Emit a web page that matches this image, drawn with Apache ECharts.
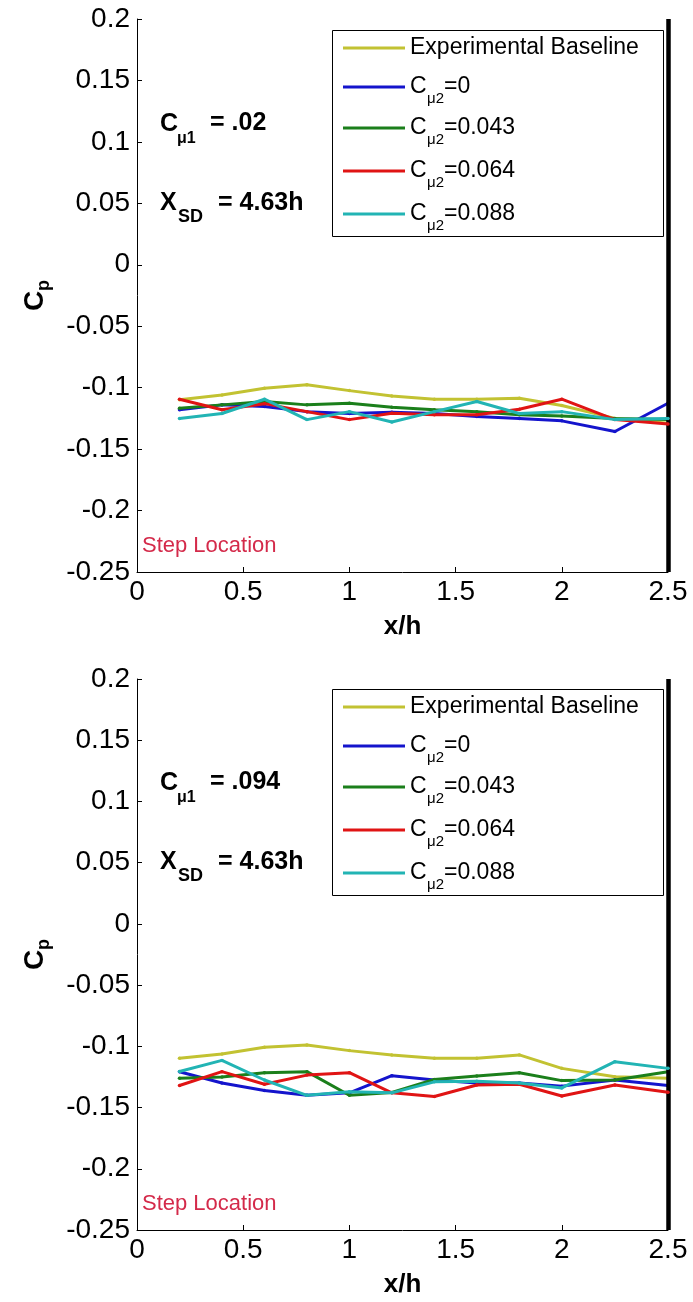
<!DOCTYPE html>
<html>
<head>
<meta charset="utf-8">
<script src="https://cdn.jsdelivr.net/npm/echarts@6/dist/echarts.min.js"></script>
<style>
html,body{margin:0;padding:0;background:#fff;}
#chart{width:693px;height:1302px;}
</style>
</head>
<body>
<div id="chart"></div>
<script>
// ---- data ----
const xPositions = [0.2, 0.4, 0.6, 0.8, 1.0, 1.2, 1.4, 1.6, 1.8, 2.0, 2.25, 2.5];
const seriesNames = ['Experimental Baseline', 'Cμ2=0', 'Cμ2=0.043', 'Cμ2=0.064', 'Cμ2=0.088'];

// top panel (Cμ1 = .02)
const topBaseline = [-0.1099, -0.1059, -0.1004, -0.0977, -0.1024, -0.1067, -0.1094, -0.1094, -0.1086, -0.1145, -0.125, -0.129];
const topC0       = [-0.118, -0.114, -0.1154, -0.1195, -0.121, -0.120, -0.121, -0.1235, -0.125, -0.127, -0.1357, -0.1127];
const topC043     = [-0.1167, -0.114, -0.1113, -0.114, -0.1127, -0.116, -0.118, -0.1195, -0.122, -0.123, -0.125, -0.126];
const topC064     = [-0.1094, -0.118, -0.113, -0.1195, -0.126, -0.1208, -0.122, -0.122, -0.1175, -0.1094, -0.126, -0.1295];
const topC088     = [-0.125, -0.121, -0.1094, -0.126, -0.1195, -0.128, -0.1195, -0.1113, -0.121, -0.1195, -0.126, -0.125];

// bottom panel (Cμ1 = .094)
const botBaseline = [-0.1098, -0.1062, -0.1008, -0.0989, -0.1035, -0.107, -0.1098, -0.1098, -0.107, -0.118, -0.1248, -0.126];
const botC0       = [-0.1207, -0.130, -0.136, -0.140, -0.138, -0.124, -0.1275, -0.130, -0.130, -0.1325, -0.1275, -0.132];
const botC043     = [-0.126, -0.125, -0.1215, -0.1207, -0.140, -0.1377, -0.127, -0.1243, -0.1216, -0.128, -0.1275, -0.1207];
const botC064     = [-0.132, -0.1207, -0.131, -0.1235, -0.1215, -0.138, -0.141, -0.1316, -0.131, -0.1406, -0.1316, -0.1375];
const botC088     = [-0.1206, -0.1115, -0.1275, -0.140, -0.137, -0.138, -0.129, -0.1285, -0.130, -0.134, -0.1125, -0.118];

const stepX = 2.5;
const xTicks = {min: 0, max: 2.5, interval: 0.5};
const yTicks = {min: -0.25, max: 0.2, interval: 0.05};

// ---- styling ----
const colors = ['#C2C232', '#1414CC', '#1B7F1B', '#E01414', '#22B4B4'];
const FONT = 'Liberation Sans, Arial, sans-serif';

function pair(xs, ys) { return xs.map((x, i) => [x, ys[i]]); }

const panels = [
  [topBaseline, topC0, topC043, topC064, topC088],
  [botBaseline, botC0, botC043, botC064, botC088]
];

const series = [];
panels.forEach((vals, g) => {
  vals.forEach((v, i) => {
    series.push({
      name: seriesNames[i], type: 'line', xAxisIndex: g, yAxisIndex: g,
      data: pair(xPositions, v), symbol: 'circle', symbolSize: 3.5, showSymbol: true,
      lineStyle: {color: colors[i], width: 3}, itemStyle: {color: colors[i]},
      animation: false, z: 2 + i
    });
  });
  series.push({
    type: 'line', xAxisIndex: g, yAxisIndex: g, data: [], clip: false, animation: false,
    markLine: {silent: true, symbol: 'none', label: {show: false},
      lineStyle: {color: '#000', width: 4.5, type: 'solid'}, data: [{xAxis: stepX}], animation: false},
    z: 10
  });
});

function xAxisCfg(g) {
  return {
    type: 'value', gridIndex: g, min: xTicks.min, max: xTicks.max, interval: xTicks.interval,
    axisLine: {onZero: false, lineStyle: {color: '#000', width: 1}},
    axisTick: {inside: true, length: 5, lineStyle: {color: '#000'}},
    axisLabel: {fontSize: 28, color: '#000', fontFamily: FONT, margin: 6},
    splitLine: {show: false},
    name: 'x/h', nameLocation: 'middle', nameGap: 42,
    nameTextStyle: {fontSize: 26, fontWeight: 'bold', color: '#000', fontFamily: FONT}
  };
}
function yAxisCfg(g) {
  return {
    type: 'value', gridIndex: g, min: yTicks.min, max: yTicks.max, interval: yTicks.interval,
    axisLine: {show: true, onZero: false, lineStyle: {color: '#000', width: 1}},
    axisTick: {show: true, inside: true, length: 5, lineStyle: {color: '#000'}},
    axisLabel: {fontSize: 28, color: '#000', fontFamily: FONT, margin: 7},
    splitLine: {show: false},
    name: '{c|C}{p|p}', nameLocation: 'middle', nameRotate: 90, nameGap: 88,
    nameTextStyle: {color: '#000', fontFamily: FONT, rich: {
      c: {fontSize: 28, fontWeight: 'bold', lineHeight: 28, verticalAlign: 'top', fontFamily: FONT, color: '#000'},
      p: {fontSize: 18, fontWeight: 'bold', lineHeight: 18, padding: [14, 0, 0, 0], verticalAlign: 'top', fontFamily: FONT, color: '#000'}
    }}
  };
}

function txt(x, y, text, size, bold, color) {
  return {type: 'text', x: x, y: y, silent: true, z: 100,
    style: {text: text, fontSize: size, fontWeight: bold ? 'bold' : 'normal', fontFamily: FONT,
      fill: color || '#000', verticalAlign: 'middle', align: 'left'}};
}

// legend drawn as graphic (needs subscripts)
const legendRowOffsets = [18, 57, 98, 141, 184];
function legendGraphic(top) {
  const els = [{type: 'rect', silent: true, z: 90,
    shape: {x: 332.5, y: top + 0.5, width: 331, height: 206},
    style: {fill: '#fff', stroke: '#000', lineWidth: 1}}];
  seriesNames.forEach((name, i) => {
    const y = top + legendRowOffsets[i];
    els.push({type: 'line', silent: true, z: 95,
      shape: {x1: 343, y1: y, x2: 405, y2: y},
      style: {stroke: colors[i], lineWidth: 3}});
    if (name.indexOf('Cμ2') === 0) {
      els.push(txt(410, y, 'C', 23, false));
      els.push(txt(427, y + 12, 'μ2', 15, false));
      els.push(txt(444, y, name.slice(3), 23, false));
    } else {
      els.push(txt(410, y, name, 23, false));
    }
  });
  return els;
}

const annot = [];
[[0, '.02'], [659, '.094']].forEach(([dy, val]) => {
  annot.push(txt(160, 124 + dy, 'C', 25, true));
  annot.push(txt(177, 139 + dy, 'μ1', 16, true));
  annot.push(txt(210, 123 + dy, '= ' + val, 25, true));
  annot.push(txt(160, 203 + dy, 'X', 25, true));
  annot.push(txt(178, 217 + dy, 'SD', 18, true));
  annot.push(txt(218, 203 + dy, '= 4.63h', 25, true));
});
annot.push(txt(142, 546, 'Step Location', 22, false, '#D42A4A'));
annot.push(txt(142, 1204, 'Step Location', 22, false, '#D42A4A'));

const graphics = annot.concat(legendGraphic(30), legendGraphic(689));

const chart = echarts.init(document.getElementById('chart'), null, {renderer: 'canvas'});
chart.setOption({
  backgroundColor: '#fff',
  animation: false,
  grid: [
    {left: 137, right: 25, top: 19, height: 553},
    {left: 137, right: 25, top: 679, height: 551}
  ],
  xAxis: [xAxisCfg(0), xAxisCfg(1)],
  yAxis: [yAxisCfg(0), yAxisCfg(1)],
  series: series,
  graphic: graphics
});
</script>
</body>
</html>
